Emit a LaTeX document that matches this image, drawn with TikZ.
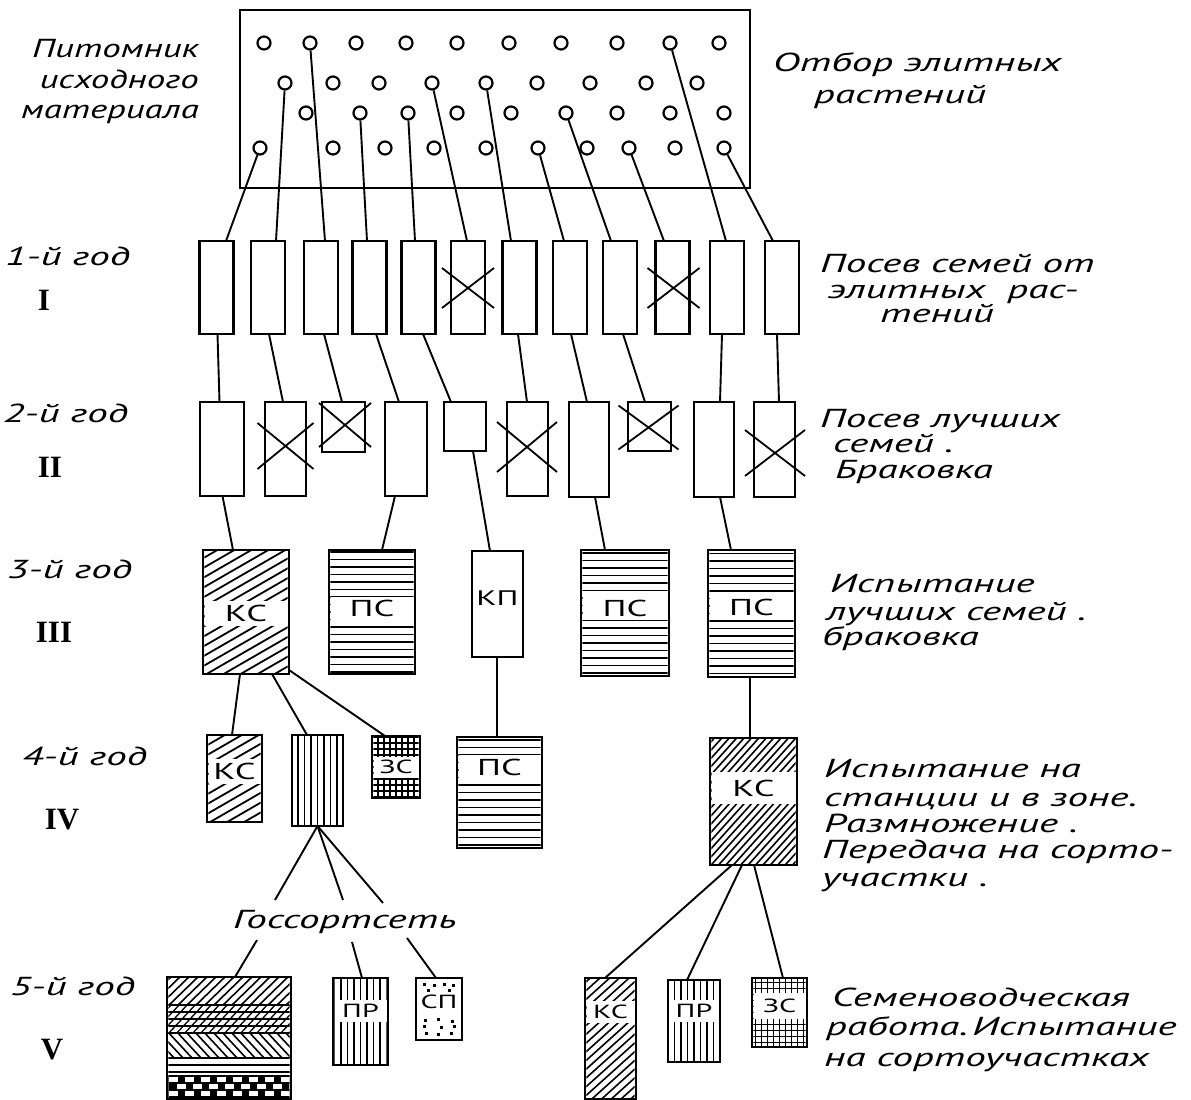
\documentclass[tikz,border=0pt]{standalone}
\usepackage{fontspec}
\newfontfamily\cyrit[FakeStretch=1.58]{PT Sans}
\newfontfamily\cyritn[FakeStretch=1.42]{PT Sans}
\newfontfamily\romnum{Liberation Serif}
\usetikzlibrary{calc}
\tikzset{
  box/.style={draw, line width=2.8pt, inner sep=0pt, outer sep=0pt, fill=white},
  con/.style={line width=1.9pt},
  circ/.style={draw, circle, line width=2.2pt, minimum size=13pt, inner sep=0pt, fill=white},
  xline/.style={line width=1.8pt},
  txt/.style={font=\cyrit\itshape\fontsize{26}{26}\selectfont, inner sep=0pt, anchor=base west},
  txtr/.style={font=\cyritn\itshape\fontsize{26}{26}\selectfont, inner sep=0pt, anchor=base east},
  romtxt/.style={font=\romnum\bfseries\fontsize{31}{31}\selectfont, inner sep=0pt},
  band/.style n args={3}{fill=white, inner sep=0pt, minimum width=#1pt, minimum height=#2pt,
     font=\cyrit\fontsize{#3}{#3}\selectfont}
}
\newcommand\plotbox[5]{%
  \pgfmathsetmacro\pbx{(#2+#4)/2}%
  \pgfmathsetmacro\pby{(#3+#5)/2}%
  \pgfmathsetmacro\pbw{#4-#2}%
  \pgfmathsetmacro\pbh{#5-#3}%
  \node[box,minimum width=\pbw pt,minimum height=\pbh pt] (#1) at (\pbx,\pby) {};}
\newcommand\xcross[5]{%
  \draw[xline] ($(#1.center)+(#2-#4,#3-#5)$) -- ($(#1.center)+(#2+#4,#3+#5)$);
  \draw[xline] ($(#1.center)+(#2-#4,#3+#5)$) -- ($(#1.center)+(#2+#4,#3-#5)$);}
\newcommand\innerclip[1]{\clip ([shift={(1.3pt,1.3pt)}]#1.south west) rectangle ([shift={(-1.3pt,-1.3pt)}]#1.north east);}
% hatch lines: node, angle, spacing, line width
\newcommand\hatchin[4]{%
  \begin{scope}
    \innerclip{#1}
    \begin{scope}[shift={(#1.center)},rotate=#2]
      \foreach \k in {-30,...,30} \draw[line width=#4] (-250,\k*#3) -- (250,\k*#3);
    \end{scope}
  \end{scope}}
\newcommand\gridin[1]{%
  \begin{scope}
    \innerclip{#1}
    \begin{scope}[shift={(#1.center)}]
      \foreach \k in {-20,...,20} {\draw[line width=1.1pt] (-200,\k*6) -- (200,\k*6);
        \draw[line width=1.1pt] (\k*6,-200) -- (\k*6,200);}
    \end{scope}
  \end{scope}}
\begin{document}
\begin{tikzpicture}[x=1pt,y=-1pt]
\useasboundingbox (0,0) rectangle (1191,1100);
\fill[white] (0,0) rectangle (1191,1100);

% nursery
\plotbox{nursery}{240}{10}{750}{188}
\foreach \x [count=\i] in {264,310,356,406,457,509,561,617,670,719} \node[circ] (r1c\i) at (\x,43) {};
\foreach \x [count=\i] in {285,333,379,432,486,537,590,646,697} \node[circ] (r2c\i) at (\x,83) {};
\foreach \x [count=\i] in {306,360,408,457,511,566,617,670,724} \node[circ] (r3c\i) at (\x,113) {};
\foreach \x [count=\i] in {260,333,385,434,486,538,587,629,675,724} \node[circ] (r4c\i) at (\x,148) {};

% year 1 boxes
\foreach \x [count=\i] in {216.5,268,321,369.5,418.5,468,519.5,570,620,672.5,727,782}
  \node[box,minimum width=34pt,minimum height=93pt] (b\i) at (\x,287.5) {};
\xcross{b6}{0}{0.5}{26}{20}
\xcross{b10}{1}{0.5}{26}{20}

% year 2 boxes
\plotbox{c1}{200}{402}{244}{496}
\plotbox{c2}{265}{402}{306}{496}
\plotbox{c3}{322}{402}{365}{452}
\plotbox{c4}{385}{402}{427}{496}
\plotbox{c5}{444}{402}{486}{451}
\plotbox{c6}{507}{402}{548}{496}
\plotbox{c7}{569}{402}{609}{497}
\plotbox{c8}{628}{402}{671}{451}
\plotbox{c9}{694}{402}{734}{497}
\plotbox{c10}{754}{402}{795}{497}
\xcross{c2}{0}{-3}{28}{23}
\xcross{c3}{1.5}{-2}{26}{22}
\xcross{c6}{-0.5}{-2}{30}{25}
\xcross{c8}{-1}{1}{30}{22}
\xcross{c10}{0.5}{3.5}{30}{23}

% year 3 boxes
\plotbox{A}{203}{550}{289}{674}
\plotbox{B}{329}{550}{415}{674}
\plotbox{C}{472}{551}{523}{657}
\plotbox{D}{581}{550}{669}{676}
\plotbox{E}{708}{550}{795}{677}
\hatchin{A}{30}{8.5}{1.8pt}
\hatchin{B}{0}{7.5}{1.8pt}
\hatchin{D}{0}{7.5}{1.8pt}
\hatchin{E}{0}{7.5}{1.8pt}
\node[band={83}{25}{23}] (Al) at (246,613) {КС};
\node[band={83}{23}{23}] (Bl) at (372,608) {ПС};
\node[band={44}{22}{21}] (Cl) at (497.5,598) {КП};
\node[band={85}{23}{23}] (Dl) at (625,608) {ПС};
\node[band={84}{23}{23}] (El) at (751.5,607) {ПС};

% year 4 boxes
\plotbox{F}{207}{735}{262}{822}
\plotbox{G}{292}{735}{343}{826}
\plotbox{H}{372}{736}{420}{798}
\plotbox{I}{457}{737}{542}{848}
\plotbox{J}{710}{738}{797}{865}
\hatchin{F}{30}{8.5}{1.8pt}
\hatchin{G}{90}{6.5}{1.5pt}
\gridin{H}
\hatchin{I}{0}{7.5}{1.8pt}
\hatchin{J}{48}{5.5}{1.6pt}
\node[band={52}{25}{23}] (Fl) at (234.5,771) {КС};
\node[band={45}{21}{19}] (Hl) at (396,767) {ЗС};
\node[band={82}{24}{23}] (Il) at (499.5,767) {ПС};
\node[band={84}{32}{23}] (Jl) at (753.5,788) {КС};

% year 5 boxes
\plotbox{K}{167}{977}{291}{1099}
\plotbox{L}{333}{978}{388}{1065}
\plotbox{M}{416}{978}{462}{1040}
\plotbox{N}{585}{978}{636}{1099}
\plotbox{O}{668}{980}{720}{1062}
\plotbox{P}{752}{978}{807}{1047}
\hatchin{L}{90}{6.5}{1.5pt}
\hatchin{N}{42}{6.5}{1.6pt}
\hatchin{O}{90}{6.5}{1.5pt}
\gridin{P}
% multi-pattern box K
\begin{scope}
  \innerclip{K}
  \begin{scope}[shift={(K.north west)}]
    \begin{scope}\clip (-5,-5) rectangle (135,27);
      \foreach \k in {-6,...,16} \draw[line width=1.6pt] (\k*9,30) -- (\k*9+34,-3);
    \end{scope}
    \begin{scope}\clip (-5,27) rectangle (135,56);
      \foreach \k in {-6,...,20} \draw[line width=1.3pt] (\k*8,58) -- (\k*8+30,26);
    \end{scope}
    \foreach \yy in {28,35,42,49,56} \draw[line width=1.6pt] (-5,\yy) -- (135,\yy);
    \begin{scope}\clip (-5,56) rectangle (135,80);
      \foreach \k in {-6,...,16} \draw[line width=1.6pt] (\k*9,54) -- (\k*9+26,82);
    \end{scope}
    \foreach \yy in {81,88,95} \draw[line width=1.6pt] (-5,\yy) -- (135,\yy);
    \fill (-5,98) rectangle (135,130);
    \foreach \yy/\off in {100/2,107/10,114/2} {\foreach \k in {0,...,8} \fill[white] (\off+\k*16,\yy) rectangle ++(9,5);}
  \end{scope}
\end{scope}
% dotted box M
\begin{scope}[shift={(M.north west)}]
  \foreach \p in {(7,5),(17,6),(27,5),(36,6),(11,11),(32,11),(8,41),(21,40),(35,42),(7,47),(24,48),(37,47),(9,54),(21,55),(34,54)}
    \fill \p rectangle ++(3.2,2.6);
\end{scope}
\node[band={52}{22}{19}] (Ll) at (360.5,1011) {ПР};
\node[band={40}{16}{19}] (Ml) at (439,1002) {СП};
\node[band={48}{22}{19}] (Nl) at (610.5,1012) {КС};
\node[band={49}{22}{19}] (Ol) at (694,1011) {ПР};
\node[band={52}{26}{19}] (Pl) at (779.5,1006) {ЗС};

% connectors: nursery -> year 1
\draw[con] (r4c1) -- ([xshift=9.5pt]b1.north);
\draw[con] (r2c1) -- ([xshift=8pt]b2.north);
\draw[con] (r1c2) -- ([xshift=4pt]b3.north);
\draw[con] (r3c2) -- ([xshift=-2.5pt]b4.north);
\draw[con] (r3c3) -- ([xshift=-3.5pt]b5.north);
\draw[con] (r2c4) -- ([xshift=-1pt]b6.north);
\draw[con] (r2c5) -- ([xshift=-8.5pt]b7.north);
\draw[con] (r4c6) -- ([xshift=-6pt]b8.north);
\draw[con] (r3c6) -- ([xshift=-9pt]b9.north);
\draw[con] (r4c8) -- ([xshift=-8.5pt]b10.north);
\draw[con] (r1c9) -- ([xshift=-1pt]b11.north);
\draw[con] (r4c10) -- ([xshift=-9pt]b12.north);

% year 1 -> year 2
\draw[con] ([xshift=1pt]b1.south) -- ([xshift=-2.5pt]c1.north);
\draw[con] ([xshift=1pt]b2.south) -- ([xshift=-2.5pt]c2.north);
\draw[con] ([xshift=3pt]b3.south) -- ([xshift=-1.5pt]c3.north);
\draw[con] ([xshift=6.5pt]b4.south) -- ([xshift=-7pt]c4.north);
\draw[con] ([xshift=4.5pt]b5.south) -- ([xshift=-14pt]c5.north);
\draw[con] ([xshift=-1.5pt]b7.south) -- ([xshift=-0.5pt]c6.north);
\draw[con] ([xshift=1pt]b8.south) -- ([xshift=-2pt]c7.north);
\draw[con] ([xshift=3pt]b9.south) -- ([xshift=-4.5pt]c8.north);
\draw[con] ([xshift=-5pt]b11.south) -- ([xshift=6pt]c9.north);
\draw[con] ([xshift=-5pt]b12.south) -- ([xshift=4.5pt]c10.north);

% year 2 -> year 3
\draw[con] ([xshift=0.5pt]c1.south) -- ([xshift=-13pt]A.north);
\draw[con] ([xshift=-11pt]c4.south) -- ([xshift=10pt]B.north);
\draw[con] ([xshift=8pt]c5.south) -- ([xshift=-7.5pt]C.north);
\draw[con] ([xshift=6pt]c7.south) -- ([xshift=-20pt]D.north);
\draw[con] ([xshift=6pt]c9.south) -- ([xshift=-20.5pt]E.north);

% year 3 -> year 4
\draw[con] ([xshift=-6pt]A.south) -- ([xshift=-2.5pt]F.north);
\draw[con] ([xshift=26pt]A.south) -- ([xshift=-10.5pt]G.north);
\draw[con] ([yshift=4pt]A.south east) -- ([xshift=-11pt]H.north);
\draw[con] ([xshift=-0.5pt]C.south) -- ([xshift=-2.5pt]I.north);
\draw[con] ([xshift=-1.5pt]E.south) -- ([xshift=-3.5pt]J.north);

% year 4 -> Gossortset -> year 5
\node[txt] (gss) at (233,928) {Госсортсеть};
\coordinate (g1) at (275,900);
\coordinate (g2) at (343,900);
\coordinate (g3) at (383,903);
\draw[con] (G.south) -- (g1);
\draw[con] (G.south) -- (g2);
\draw[con] (G.south) -- (g3);
\coordinate (h1) at (257,940);
\coordinate (h2) at (352,942);
\coordinate (h3) at (407,938);
\draw[con] (h1) -- ([xshift=6pt]K.north);
\draw[con] (h2) -- ([xshift=1.5pt]L.north);
\draw[con] (h3) -- ([xshift=-3pt]M.north);
\draw[con] ([xshift=-21.5pt]J.south) -- ([xshift=-5.5pt]N.north);
\draw[con] ([xshift=-11.5pt]J.south) -- ([xshift=-7pt]O.north);
\draw[con] ([xshift=0.5pt]J.south) -- ([xshift=3.5pt]P.north);

% left texts
\node[txtr] (la) at (199,57) {Питомник};
\node[txtr] (lb) at (199,88) {исходного};
\node[txtr] (lc) at (199,118) {материала};
\node[txt] (y1) at (5,265) {1-й год};
\node[romtxt] (n1) at (44,300) {I};
\node[txt] (y2) at (3,422) {2-й год};
\node[romtxt] (n2) at (50,467) {II};
\node[txt] (y3) at (7,578) {3-й год};
\node[romtxt] (n3) at (54,632) {III};
\node[txt] (y4) at (22,765) {4-й год};
\node[romtxt] (n4) at (62,820) {IV};
\node[txt] (y5) at (10,995) {5-й год};
\node[romtxt] (n5) at (52,1050) {V};

% right texts
\node[txt] (t1a) at (773,71) {Отбор элитных};
\node[txt] (t1b) at (814,103) {растений};
\node[txt] (t2a) at (820,272) {Посев семей от};
\node[txt] (t2b) at (828,298) {элитных\ \ рас-};
\node[txt] (t2c) at (880,322) {тений};
\node[txt] (t3a) at (820,427) {Посев лучших};
\node[txt] (t3b) at (833,452) {семей .};
\node[txt] (t3c) at (835,478) {Браковка};
\node[txt] (t4a) at (830,592) {Испытание};
\node[txt] (t4b) at (826,620) {лучших семей .};
\node[txt] (t4c) at (822,645) {браковка};
\node[txt] (t5a) at (824,777) {Испытание на};
\node[txt] (t5b) at (824,806) {станции и в зоне.};
\node[txt] (t5c) at (824,832) {Размножение .};
\node[txt] (t5d) at (822,858) {Передача на сорто-};
\node[txt] (t5e) at (822,886) {участки .};
\node[txt] (t6a) at (832,1006) {Семеноводческая};
\node[txt] (t6b) at (826,1035) {работа.\,Испытание};
\node[txt] (t6c) at (824,1066) {на сортоучастках};
\end{tikzpicture}
\end{document}
